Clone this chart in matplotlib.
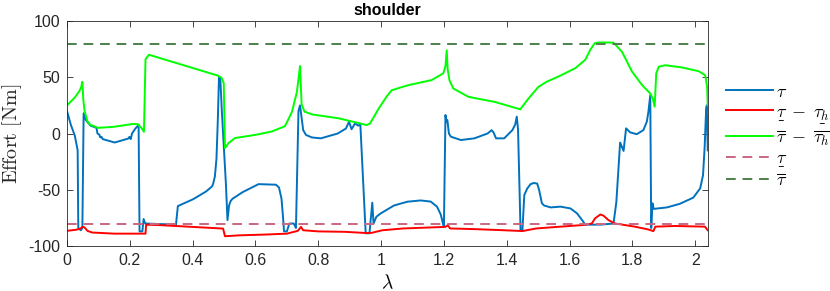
import matplotlib
matplotlib.use("Agg")
import matplotlib.pyplot as plt
from matplotlib.mathtext import MathTextParser

plt.rcParams['font.family'] = ['Liberation Sans', 'DejaVu Sans']
plt.rcParams['mathtext.fontset'] = 'cm'
plt.rcParams['axes.unicode_minus'] = False

# ---- data ----
tau_x = [0.000, 0.012, 0.025, 0.034, 0.036, 0.044, 0.049, 0.053, 0.060, 0.075, 0.094, 0.097,
         0.103, 0.106, 0.110, 0.114, 0.152, 0.195, 0.199, 0.203, 0.207, 0.218, 0.228, 0.231,
         0.240, 0.244, 0.249, 0.300, 0.347, 0.353, 0.401, 0.443, 0.462, 0.466, 0.471, 0.476,
         0.480, 0.484, 0.488, 0.493, 0.500, 0.506, 0.511, 0.516, 0.521, 0.527, 0.560, 0.610,
         0.665, 0.675, 0.683, 0.688, 0.691, 0.700, 0.708, 0.722, 0.729, 0.737, 0.742, 0.746,
         0.752, 0.761, 0.780, 0.808, 0.862, 0.888, 0.898, 0.906, 0.917, 0.927, 0.934, 0.951,
         0.963, 0.972, 0.976, 0.985, 0.999, 1.017, 1.041, 1.084, 1.126, 1.158, 1.178, 1.190,
         1.197, 1.200, 1.205, 1.208, 1.211, 1.216, 1.222, 1.254, 1.297, 1.339, 1.352, 1.358,
         1.366, 1.392, 1.418, 1.427, 1.432, 1.436, 1.440, 1.444, 1.450, 1.456, 1.465, 1.476,
         1.486, 1.497, 1.503, 1.512, 1.519, 1.540, 1.571, 1.603, 1.624, 1.640, 1.650, 1.700,
         1.740, 1.749, 1.761, 1.772, 1.780, 1.793, 1.814, 1.835, 1.846, 1.851, 1.857, 1.860,
         1.864, 1.868, 1.910, 1.951, 1.994, 2.016, 2.025, 2.030, 2.035, 2.037, 2.040]
tau_y = [20, 8, -2, -15, -84, -86, -84, 18, 12, 7, 5, 0,
         -1, -3.5, -3, -5, -8, -4.5, -3, -5, 0, 4.5, 7.5, -87,
         -87, -76, -80, -80.5, -81, -64.5, -58.5, -51.5, -47, -44, -38, -22,
         10, 50, 50, 20, -15, -45, -77, -64, -60, -58, -52, -45,
         -45.5, -48, -58, -75, -87, -87, -80, -80, -84, 20, 25, 16,
         3, -1.3, -3.5, -4.3, 0, 4.4, 10.5, 3.8, 9, 7, 8, -88.7,
         -88.7, -61.5, -80, -74, -71, -68, -64, -60.6, -59.5, -60.5, -65, -72,
         -80, -83, 16.4, 10.5, 12, 0, -2.8, -5.8, -4.3, 0, 3, 1,
         -4.3, -4.3, 3, 8, 15, 4, -40, -86, -86, -54.7, -49, -45,
         -44, -44.5, -50, -62, -64, -65.7, -65, -66.6, -71, -77, -81, -81,
         -80, -61, -8, -15.5, 4.6, 1, -0.6, 3, 10.5, 19, 34, -84,
         -62, -67, -65.7, -62.5, -57, -48.7, -37, -13, 22, 25, -15]

low_x = [0.000, 0.030, 0.042, 0.050, 0.056, 0.065, 0.080, 0.150, 0.250, 0.252, 0.300, 0.497,
         0.503, 0.550, 0.633, 0.700, 0.735, 0.745, 0.752, 0.800, 0.886, 0.955, 0.970, 1.004,
         1.070, 1.205, 1.212, 1.220, 1.300, 1.392, 1.450, 1.494, 1.561, 1.645, 1.671, 1.681,
         1.698, 1.708, 1.724, 1.745, 1.808, 1.851, 1.867, 1.873, 1.936, 2.031, 2.040]
low_y = [-86.5, -85.5, -84.5, -83, -83.5, -86.5, -88, -89, -89, -81, -81.5, -84.5,
         -91.3, -90.5, -89.8, -89, -86.5, -83, -86, -87, -87.4, -88.5, -88.3, -86,
         -84.4, -83, -81.5, -84.4, -85, -86, -86.7, -84.4, -83, -81.3, -80, -75.5,
         -72, -73, -77, -80, -82.8, -85.3, -86.8, -82.8, -82.2, -82.8, -86]

up_x = [0.000, 0.025, 0.040, 0.045, 0.049, 0.052, 0.056, 0.065, 0.073, 0.099, 0.150, 0.210,
        0.226, 0.237, 0.245, 0.250, 0.261, 0.480, 0.492, 0.499, 0.503, 0.514, 0.535, 0.600,
        0.652, 0.694, 0.716, 0.732, 0.742, 0.747, 0.756, 0.780, 0.865, 0.918, 0.954, 0.965,
        0.992, 1.018, 1.034, 1.087, 1.161, 1.198, 1.205, 1.209, 1.212, 1.218, 1.230, 1.278,
        1.363, 1.416, 1.443, 1.469, 1.501, 1.527, 1.565, 1.618, 1.650, 1.666, 1.680, 1.693,
        1.740, 1.767, 1.799, 1.831, 1.857, 1.865, 1.871, 1.876, 1.884, 1.905, 1.958, 2.011,
        2.032, 2.038, 2.040]
up_y = [25, 32, 38, 41, 46, 30, 20, 11, 8, 5, 6, 8.5,
        8.3, 5, 1.5, 66, 70, 51.5, 49.5, 45, -13, -8.6, -4, -1.2,
        1.8, 6.5, 19, 37, 60, 26, 19.5, 17, 13.5, 10, 7.5, 9,
        22, 33, 38.5, 43, 47.5, 53.5, 60, 74, 57, 47, 40, 32.6,
        28, 23.7, 21.5, 31, 41.5, 46, 50.7, 58, 65.5, 74.4, 80.2, 81,
        80.8, 72.6, 55, 43, 35.6, 31, 23.8, 53.4, 59.4, 60.7, 58.7, 55.4,
        51.8, 41.5, 25]

tau_min = -80
tau_max = 80

x_ticks = [0, 0.2, 0.4, 0.6, 0.8, 1, 1.2, 1.4, 1.6, 1.8, 2]
x_ticklabels = ['0', '0.2', '0.4', '0.6', '0.8', '1', '1.2', '1.4', '1.6', '1.8', '2']
y_ticks = [-100, -50, 0, 50, 100]
y_ticklabels = ['-100', '-50', '0', '50', '100']


def under(s):
    # mathtext may not know \underline; fall back to \underset
    try:
        MathTextParser('path').parse(r'$\underline{\tau}$')
        return r'\underline{%s}' % s
    except Exception:
        return r'\underset{\_}{%s}' % s


labels = [r'$\tau$',
          r'$%s\;-\;%s$' % (under(r'\tau'), under(r'\tau_h')),
          r'$\overline{\tau}\;-\;\overline{\tau_h}$',
          r'$%s$' % under(r'\tau'),
          r'$\overline{\tau}$']

# ---- figure ----
fig = plt.figure(figsize=(8.3, 2.91), dpi=100)
ax = fig.add_axes([0.0807, 0.1546, 0.7720, 0.7732])

ax.plot(tau_x, tau_y, color='#0072BD', lw=1.4, label=labels[0])
ax.plot(low_x, low_y, color='#FF0000', lw=1.4, label=labels[1])
ax.plot(up_x, up_y, color='#00FF00', lw=1.4, label=labels[2])
ax.axhline(tau_min, color='#CC6680', lw=1.4, ls=(0, (5, 3.5)), label=labels[3])
ax.axhline(tau_max, color='#4D804D', lw=1.4, ls=(0, (5, 3.5)), label=labels[4])

ax.set_xlim(0, 2.04)
ax.set_ylim(-100, 100)
ax.set_xticks(x_ticks)
ax.set_xticklabels(x_ticklabels)
ax.set_yticks(y_ticks)
ax.set_yticklabels(y_ticklabels)
ax.tick_params(direction='in', top=True, right=True, length=4, width=0.6,
               color='#262626', labelsize=11.5, labelcolor='#262626', pad=5)
for sp in ax.spines.values():
    sp.set_color('#262626')
    sp.set_linewidth(0.6)

ax.set_title('shoulder', fontsize=11.5, fontweight='bold', pad=4)
ax.set_xlabel(r'$\lambda$', fontsize=14, labelpad=4)
ax.set_ylabel(r'$\mathrm{Effort\ [Nm]}$', fontsize=14.5, labelpad=3, color='#262626')

ax.legend(loc='upper left', bbox_to_anchor=(1.0286, 0.722), frameon=False,
          fontsize=13, borderpad=0, borderaxespad=0, handlelength=2.6,
          handletextpad=0.17, labelspacing=0.15)

fig.savefig('out.png', dpi=100)
